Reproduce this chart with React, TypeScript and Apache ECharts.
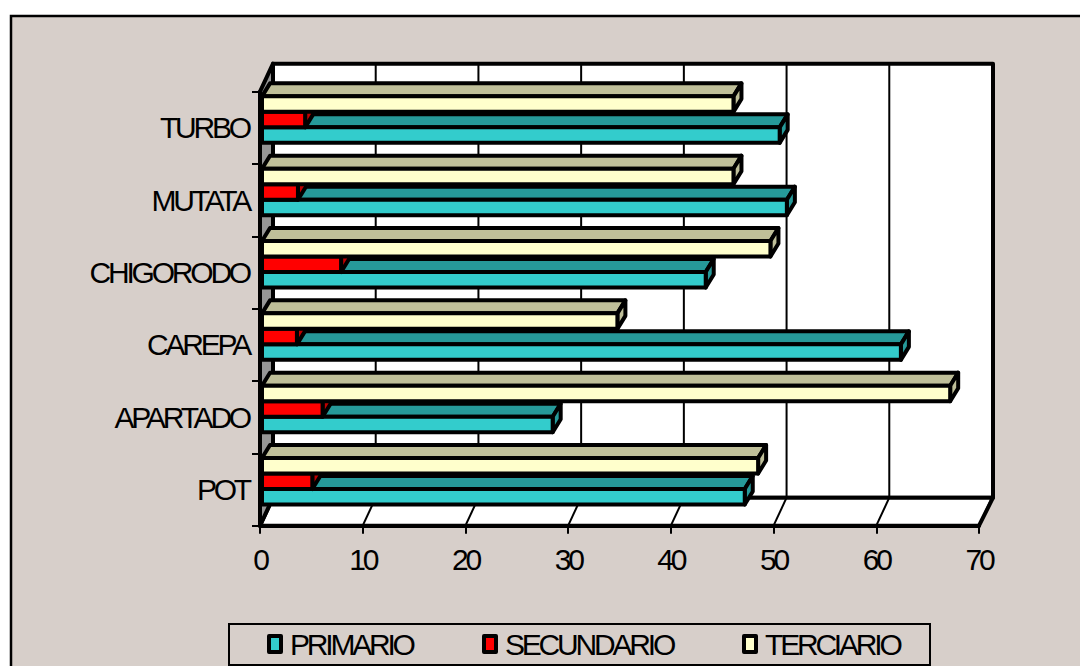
import React, { useEffect, useRef } from "react";
import * as echarts from "echarts";

const categories = ["POT", "APARTADO", "CAREPA", "CHIGORODO", "MUTATA", "TURBO"];
const primario = [47, 28.3, 62.2, 43.2, 51.1, 50.4];
const secundario = [4.9, 5.9, 3.4, 7.7, 3.5, 4.2];
const terciario = [48.3, 67, 34.6, 49.5, 45.9, 45.9];
const xTicks = [0, 10, 20, 30, 40, 50, 60, 70];

const BG = "#D7CFCA";
const FONT = "Liberation Sans, Arial, sans-serif";
const DEPTH_X = 13;
const DEPTH_Y = 28;
const STROKE = 4;

function barRenderer(fill: string, topFill: string, sideFill: string, slot: number) {
  return (_p: any, api: any) => {
    const value = api.value(0);
    const cat = api.value(1);
    const start = api.coord([0, cat]);
    const end = api.coord([value, cat]);
    const h = 15.5;
    const x0 = start[0] + 2;
    const x1 = end[0] + 2;
    const yTop = start[1] - 31.5 + slot * h;
    const yBot = yTop + h;
    const dx = 8;
    const dy = 13;
    const style = (f: string) => ({ fill: f, stroke: "#000", lineWidth: STROKE, lineJoin: "round" });
    return {
      type: "group",
      children: [
        {
          type: "polygon",
          shape: { points: [[x0, yTop], [x0 + dx, yTop - dy], [x1 + dx, yTop - dy], [x1, yTop]] },
          style: style(topFill),
        },
        {
          type: "polygon",
          shape: { points: [[x1, yTop], [x1 + dx, yTop - dy], [x1 + dx, yBot - dy], [x1, yBot]] },
          style: style(sideFill),
        },
        { type: "rect", shape: { x: x0, y: yTop, width: x1 - x0, height: h }, style: style(fill) },
      ],
    };
  };
}

function wallRenderer(_p: any, api: any) {
  const a = api.coord([0, 0]);
  const b = api.coord([70, 0]);
  const size = api.size([0, 1]);
  const left = a[0];
  const right = b[0];
  const bottom = a[1] + size[1] / 2;
  const top = bottom - size[1] * categories.length;
  const line = { stroke: "#000", lineWidth: STROKE, lineJoin: "round" };
  return {
    type: "group",
    children: [
      {
        type: "rect",
        shape: { x: left + DEPTH_X, y: top - DEPTH_Y, width: right - left + 1, height: bottom - top },
        style: { fill: "#fff", ...line },
      },
      {
        type: "polygon",
        shape: {
          points: [[left, bottom], [right, bottom], [right + DEPTH_X + 1, bottom - DEPTH_Y], [left + DEPTH_X, bottom - DEPTH_Y]],
        },
        style: { fill: "#fff", ...line },
      },
      {
        type: "polygon",
        shape: {
          points: [[left, top], [left + DEPTH_X, top - DEPTH_Y], [left + DEPTH_X, bottom - DEPTH_Y], [left, bottom]],
        },
        style: { fill: "#969696", ...line },
      },
    ],
  };
}

function gridRenderer(_p: any, api: any) {
  const v = api.value(0);
  const a = api.coord([v, 0]);
  const size = api.size([0, 1]);
  const bottom = a[1] + size[1] / 2;
  const top = bottom - size[1] * categories.length;
  const x = a[0];
  const line = { stroke: "#000", lineWidth: 2 };
  return {
    type: "group",
    children: [
      {
        type: "line",
        shape: { x1: x, y1: bottom, x2: x + DEPTH_X, y2: bottom - DEPTH_Y },
        style: line,
      },
      {
        type: "line",
        shape: { x1: x + DEPTH_X, y1: bottom - DEPTH_Y, x2: x + DEPTH_X, y2: top - DEPTH_Y },
        style: line,
      },
    ],
  };
}

function toPairs(values: number[]) {
  return values.map((v, i) => [v, i]);
}

function legendFor(name: string, left: number) {
  return {
    left,
    top: 629,
    padding: 0,
    data: [{ name, icon: "rect", itemStyle: { borderColor: "#000", borderWidth: 4, borderJoin: "round" } }],
    itemWidth: 12,
    itemHeight: 16,
    textStyle: { color: "#000", fontSize: 30, fontFamily: FONT, padding: [0, 0, 0, 4] },
  };
}

export default function App() {
  const ref = useRef<HTMLDivElement>(null);
  useEffect(() => {
    if (!ref.current) return;
    const chart = echarts.init(ref.current, undefined, { renderer: "svg" });
    const customBase = { type: "custom", coordinateSystem: "cartesian2d", encode: { x: 0, y: 1 }, clip: false };
    chart.setOption({
      animation: false,
      backgroundColor: "#fff",
      textStyle: { fontFamily: FONT },
      graphic: [
        {
          type: "rect",
          z: -10,
          shape: { x: 11, y: 16, width: 1080, height: 660 },
          style: { fill: BG, stroke: "#000", lineWidth: 2.5 },
        },
        {
          type: "rect",
          z: -9,
          shape: { x: 229, y: 624, width: 701, height: 41 },
          style: { fill: "none", stroke: "#000", lineWidth: 2 },
        },
      ],
      grid: { left: 260, top: 91.7, width: 719, height: 434 },
      xAxis: {
        type: "value",
        min: 0,
        max: 70,
        interval: 10,
        splitLine: { show: false },
        axisLine: { show: true, lineStyle: { color: "#000", width: STROKE } },
        axisTick: { show: true, length: 8, lineStyle: { color: "#000", width: 2 } },
        axisLabel: { color: "#000", fontSize: 30, fontFamily: FONT, margin: 19 },
      },
      yAxis: {
        type: "category",
        data: categories,
        axisLine: { show: true, lineStyle: { color: "#000", width: STROKE } },
        axisTick: { show: true, length: 8, lineStyle: { color: "#000", width: 2 } },
        axisLabel: { color: "#000", fontSize: 30, fontFamily: FONT, margin: 11 },
      },
      legend: [legendFor("PRIMARIO", 267), legendFor("SECUNDARIO", 482), legendFor("TERCIARIO", 742)],
      series: [
        { ...customBase, name: "wall", data: [[0, 0]], renderItem: wallRenderer, silent: true, z: 1 },
        { ...customBase, name: "grid", data: xTicks.map((t) => [t, 0]), renderItem: gridRenderer, silent: true, z: 2 },
        {
          ...customBase,
          name: "PRIMARIO",
          z: 3,
          itemStyle: { color: "#33CCCC" },
          data: toPairs(primario),
          renderItem: barRenderer("#33CCCC", "#269999", "#269999", 2),
        },
        {
          ...customBase,
          name: "SECUNDARIO",
          z: 4,
          itemStyle: { color: "#FF0000" },
          data: toPairs(secundario),
          renderItem: barRenderer("#FF0000", "#BF0000", "#BF0000", 1),
        },
        {
          ...customBase,
          name: "TERCIARIO",
          z: 5,
          itemStyle: { color: "#FFFFCC" },
          data: toPairs(terciario),
          renderItem: barRenderer("#FFFFCC", "#BFBF99", "#BFBF99", 0),
        },
      ],
    });
    return () => chart.dispose();
  }, []);
  return (
    <>
      <style>{`html,body{margin:0;padding:0;background:#fff} .c3d svg text{letter-spacing:-3.2px}`}</style>
      <div ref={ref} className="c3d" style={{ position: "absolute", left: 0, top: 0, width: 1080, height: 666 }} />
    </>
  );
}
